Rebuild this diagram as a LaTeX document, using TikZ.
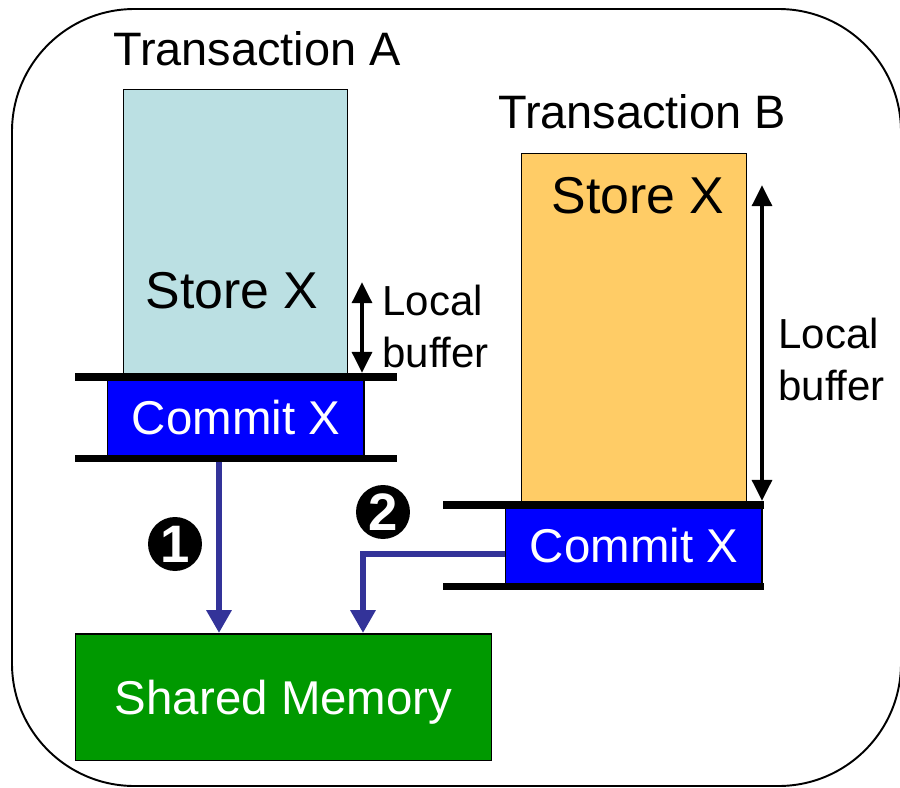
\documentclass[tikz,border=0pt]{standalone}
\usepackage{fontspec}
\setmainfont{Liberation Sans}
\usetikzlibrary{arrows.meta,positioning,calc}
\definecolor{storeblue}{RGB}{187,224,227}
\definecolor{storeorange}{RGB}{255,204,102}
\definecolor{commitblue}{RGB}{0,0,255}
\definecolor{memgreen}{RGB}{0,153,0}
\definecolor{flowblue}{RGB}{51,51,153}

\begin{document}
\begin{tikzpicture}[
    x=0.02cm, y=-0.02cm,
    frame/.style={draw=black, line width=1.1pt, rounded corners=2.45cm},
    txbox/.style={draw=black, line width=0.85pt, anchor=north west, inner sep=0pt},
    commit/.style={txbox, fill=commitblue, text=white, minimum width=5.13cm, minimum height=1.6cm,
                   font=\fontsize{27}{32}\selectfont},
    mem/.style={txbox, fill=memgreen, text=white, minimum width=8.32cm, minimum height=2.54cm,
                text depth=0pt, font=\fontsize{27}{32}\selectfont},
    title/.style={anchor=base, inner sep=0pt, font=\fontsize{26.7}{32}\selectfont},
    storetxt/.style={anchor=base, inner sep=0pt, font=\fontsize{29.5}{35}\selectfont},
    note/.style={anchor=west, align=left, inner sep=0pt, font=\fontsize{23.9}{29.6}\selectfont},
    bar/.style={line width=4.5pt},
    flow/.style={draw=flowblue, line width=3.4pt, -{Triangle[width=13.7pt,length=13pt]}},
    span/.style={line width=2.8pt, {Triangle[width=11pt,length=12pt]}-{Triangle[width=11pt,length=12pt]}},
    badge/.style={circle, fill=black, text=white, minimum size=1.08cm, inner sep=0pt,
                  font=\bfseries\fontsize{30}{34}\selectfont}
  ]
  \useasboundingbox (0,0) rectangle (900,788);
  \draw[frame] (12,9) rectangle (901,786);

  % the two transactions
  \node[txbox, fill=storeblue, minimum width=4.48cm, minimum height=5.76cm] (boxA) at (123,89) {};
  \node[txbox, fill=storeorange, minimum width=4.5cm, minimum height=7.04cm] (boxB) at (521,153) {};
  \node[title] (titleA) at (257,65) {Transaction A};
  \node[title] (titleB) at (642,128) {Transaction B};
  \node[storetxt] (storeA) at (232,308) {Store X};
  \node[storetxt] (storeB) at (638,213) {Store X};

  % commits into shared memory
  \node[mem] (memory) at (75,633) {Shared Memory};
  \coordinate (in1) at (219,633);
  \coordinate (in2) at (363,633);
  \node[commit] (commitA) at (107,377) {Commit X};
  \node[commit] (commitB) at (505,505) {Commit X};
  \draw[flow] (commitA.south -| in1) -- (in1);
  \draw[flow] ($(commitB.west)+(0,8)$) -| (in2);
  \node[badge] (one) at (175,544) {1};
  \node[badge] (two) at (383,512) {2};

  % rails round each commit
  \draw[bar] ($(commitA.north west)+(-32,0)$) -- ($(commitA.north east)+(32,0)$);
  \draw[bar] ($(commitA.south west)+(-32,0)$) -- ($(commitA.south east)+(32,0)$);
  \draw[bar] ($(commitB.north west)+(-62,0)$) -- ($(commitB.north east)+(1,0)$);
  \draw[bar] ($(commitB.south west)+(-62,0)$) -- ($(commitB.south east)+(1,0)$);

  % local buffer extents
  \coordinate (bufA) at (362,282);
  \coordinate (bufB) at (762,185);
  \draw[span] (bufA) -- ($(bufA |- commitA.north)+(0,-4)$);
  \draw[span] (bufB) -- ($(bufB |- commitB.north)+(0,-4)$);
  \node[note] (noteA) at (382,326) {Local\\buffer};
  \node[note] (noteB) at (778,359) {Local\\buffer};
\end{tikzpicture}
\end{document}
